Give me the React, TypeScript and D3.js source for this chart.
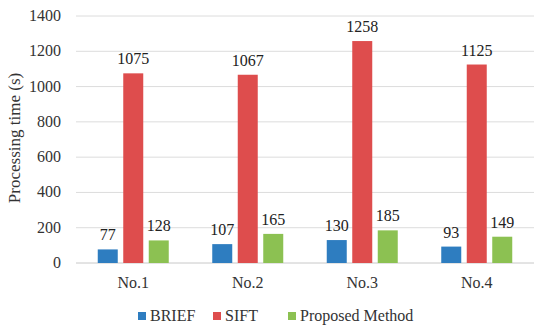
import React from "react";
import * as d3 from "d3";

const categories = ["No.1", "No.2", "No.3", "No.4"];
const seriesNames = ["BRIEF", "SIFT", "Proposed Method"];
const brief = [77, 107, 130, 93];
const sift = [1075, 1067, 1258, 1125];
const proposed = [128, 165, 185, 149];
const yTicks = [0, 200, 400, 600, 800, 1000, 1200, 1400];
const colors = ["#2e7dc0", "#de4d4d", "#8cc152"];

const FONT = "Liberation Serif";

export default function App() {
  const W = 550, H = 331;
  const left = 76, right = 534, top = 16, bottom = 263;
  const x = d3.scaleBand().domain(categories).range([left, right]).paddingInner(0).paddingOuter(0);
  const y = d3.scaleLinear().domain([0, 1400]).range([bottom, top]);
  const series = [brief, sift, proposed];
  const barW = 20, gap = 5.5;
  const legendX = [138, 213, 288];
  return (
    <svg width={W} height={H} style={{ position: "absolute", left: 0, top: 0, background: "#fff" }}>
      <rect width={W} height={H} fill="#fff" />
      {yTicks.map((t) => (
        <g key={t}>
          <line x1={left} x2={right} y1={y(t)} y2={y(t)} stroke={t === 0 ? "#c8c8c8" : "#dcdcdc"} strokeWidth={1} />
          <text x={left - 15} y={y(t) + 5} textAnchor="end" style={{ fontFamily: FONT }} fontSize={16} fill="#333">{t}</text>
        </g>
      ))}
      <text transform={`translate(20,138) rotate(-90)`} textAnchor="middle" style={{ fontFamily: FONT }} fontSize={17} fill="#333">Processing time (s)</text>
      {categories.map((c, i) => {
        const cx = (x(c) as number) + x.bandwidth() / 2;
        return (
          <g key={c}>
            {series.map((s, j) => {
              const bx = cx + (j - 1) * (barW + gap) - barW / 2;
              return (
                <g key={j}>
                  <rect x={bx} y={y(s[i])} width={barW} height={bottom - y(s[i])} fill={colors[j]} />
                  <text x={bx + barW / 2} y={y(s[i]) - 9} textAnchor="middle" style={{ fontFamily: FONT }} fontSize={16} fill="#222">{s[i]}</text>
                </g>
              );
            })}
            <text x={cx} y={288} textAnchor="middle" style={{ fontFamily: FONT }} fontSize={16} fill="#333">{c}</text>
          </g>
        );
      })}
      {seriesNames.map((n, j) => (
        <g key={n}>
          <rect x={legendX[j]} y={312} width={8} height={8} fill={colors[j]} />
          <text x={legendX[j] + 12} y={321} style={{ fontFamily: FONT }} fontSize={16} fill="#333">{n}</text>
        </g>
      ))}
    </svg>
  );
}
